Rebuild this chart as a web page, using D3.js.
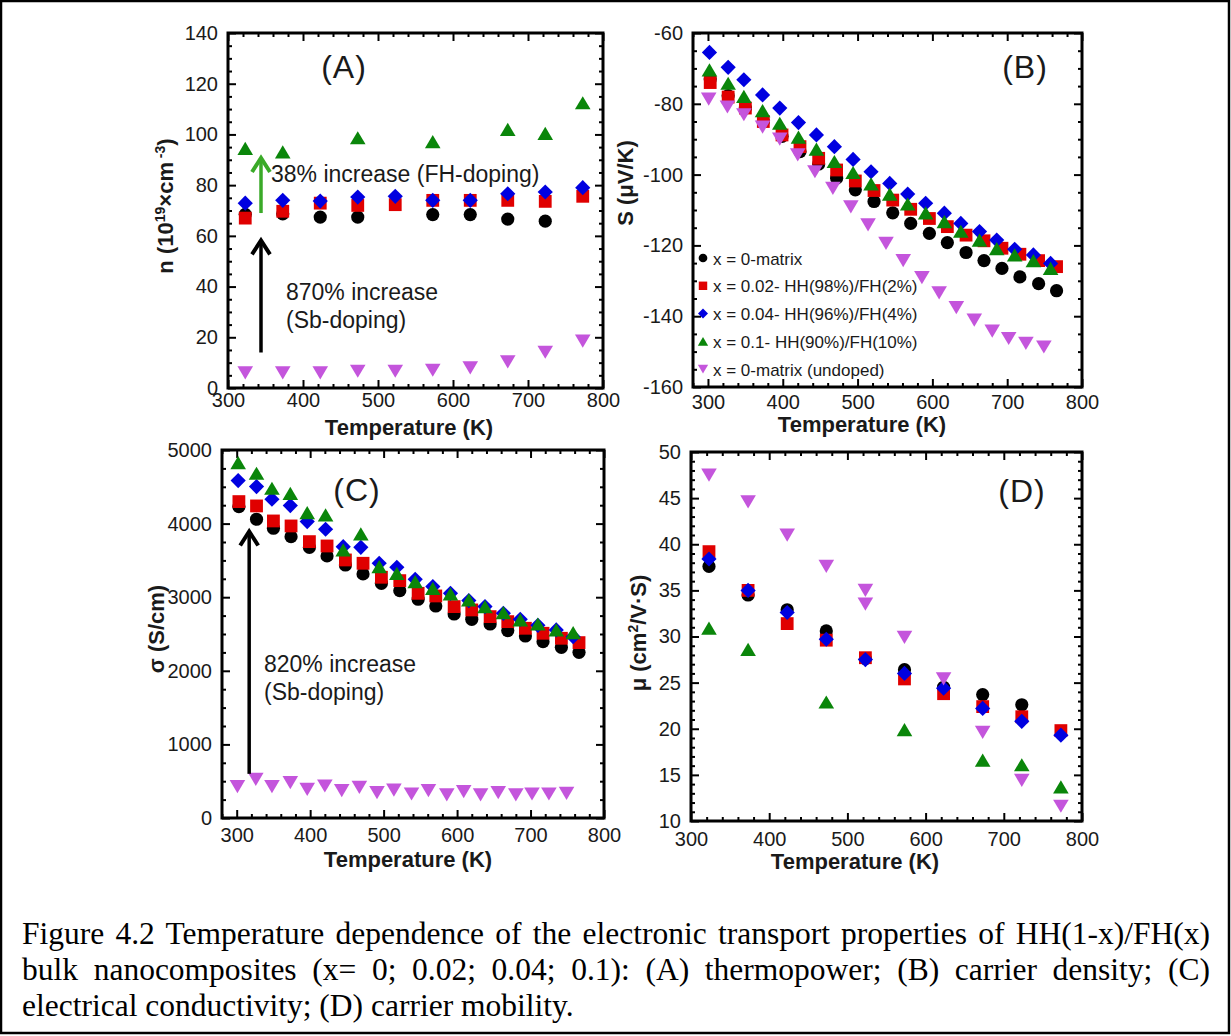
<!DOCTYPE html>
<html>
<head>
<meta charset="utf-8">
<script src="https://cdn.jsdelivr.net/npm/d3@7"></script>
<style>
  body { margin: 0; background: #fff; }
  svg text { font-family: "Liberation Sans", Arial, sans-serif; fill: #1a1a1a; }
  svg text.caption { font-family: "Liberation Serif", "Times New Roman", serif; fill: #000; }
</style>
</head>
<body>
<svg id="fig" width="1231" height="1036"></svg>
<script>
// ---- data ----
// (A) carrier density n (10^19 cm^-3)
const tA = [323, 373, 423, 473, 523, 573, 623, 673, 723, 773];
const nBlack   = [68.5, 68.7, 67.4, 67.4, null, 68.4, 68.4, 66.6, 65.8, null];
const nRed     = [67, 69.7, 72.9, 72, 72.3, 74, 74, 74, 73.6, 75.6];
const nBlue    = [72.9, 74, 73.7, 75.3, 75.6, 74, 74, 76.6, 77.3, 79];
const nGreen   = [94.5, 93.1, null, 98.7, null, 97.2, null, 102, 100.4, 112.5];
const nUndoped = [6, 6, 6, 6.6, 6.6, 7, 7.9, 10.3, 14.1, 18.5];

// (B) thermopower S (uV/K) and (C) conductivity sigma (S/cm)
const tB  = [303, 327, 350, 374, 399, 423, 448, 472, 497, 522, 547, 571, 596, 620, 645, 669, 693, 717, 742, 766];
const tBG = [302, 327, 348, 373, 396, 421, 445, 469, 494, 518, 543, 567, 591, 616, 638, 663, 686, 710, 735, 758];
const tU  = [301, 326, 348, 373, 396, 420, 443, 467, 491, 514, 538, 561, 586, 609, 632, 656, 680, 702, 725, 749];
const sBlack   = [-73, -77.7, -81.2, -85, -89.2, -93.5, -97, -101, -104.3, -107.6, -110.8, -113.8, -116.6, -119.2, -122, -124.3, -126.5, -128.9, -130.8, -132.8];
const sRed     = [-74, -78.1, -81.2, -85, -88.8, -92.1, -95.4, -98.7, -101.8, -104.5, -107.2, -109.8, -112.4, -114.7, -117.1, -118.7, -120.8, -122.5, -124.3, -126];
const sBlue    = [-65.5, -69.7, -73.2, -77.5, -81.2, -85.3, -88.8, -92.1, -95.7, -99.2, -102.5, -105.5, -108.1, -110.9, -113.8, -116.1, -118.5, -121.1, -122.7, -125.1];
const sGreen   = [-70.4, -74.2, -77.9, -81.9, -85.5, -89.4, -92.8, -96.3, -99.4, -102.6, -105.5, -108.3, -110.8, -113.3, -116, -118.5, -120.9, -122.7, -124.3, -126.5];
const sUndoped = [-78.7, -80.9, -83.1, -86.6, -90, -94.4, -99.2, -103.9, -109.1, -114.2, -119.4, -124.3, -129.1, -133.4, -137.6, -141.1, -144.2, -146.3, -147.7, -148.7];

const cBlack   = [4231, 4059, 3937, 3823, 3678, 3561, 3438, 3316, 3189, 3089, 2972, 2881, 2772, 2700, 2636, 2546, 2473, 2396, 2319, 2251];
const cRed     = [4299, 4240, 4036, 3968, 3755, 3696, 3506, 3461, 3271, 3225, 3053, 3017, 2872, 2827, 2736, 2668, 2578, 2510, 2442, 2383];
const cBlue    = [4584, 4503, 4331, 4245, 4027, 3923, 3687, 3678, 3461, 3407, 3243, 3144, 3053, 2954, 2872, 2781, 2700, 2618, 2555, 2464];
const cGreen   = [4829, 4684, 4480, 4412, 4149, 4118, 3642, 3860, 3416, 3325, 3212, 3121, 3044, 2963, 2872, 2790, 2691, 2636, 2555, 2519];
const cUndoped = [426, 525, 426, 480, 390, 435, 371, 417, 344, 380, 326, 371, 313, 358, 313, 344, 313, 326, 326, 335];

// (D) mobility mu (cm2/V.S)
const tDU = [323, 373, 423, 473, 523, 523, 573, 623, 673, 723, 773];
const mBlack   = [37.6, 34.5, 32.9, 30.6, 27.6, 26.4, 24.5, 23.7, 22.6, null];
const mRed     = [39.2, 35, 31.4, 29.6, 27.7, 25.4, 23.8, 22.4, 21.3, 19.8];
const mBlue    = [38.4, 35, 32.6, 29.7, 27.5, 26, 24.4, 22.2, 20.8, 19.3];
const mGreen   = [30.9, 28.6, null, 22.9, null, 19.9, null, 16.6, 16.1, 13.7];
const mUndoped = [47.5, 44.6, 41, 37.6, 35, 33.5, 29.9, 25.4, 19.6, 14.4, 11.6];

const legendLabels = [
  "x = 0-matrix",
  "x = 0.02- HH(98%)/FH(2%)",
  "x = 0.04- HH(96%)/FH(4%)",
  "x = 0.1- HH(90%)/FH(10%)",
  "x = 0-matrix (undoped)"
];
const seriesColors = ["#000000", "#e00000", "#0000e0", "#0a860a", "#c455dc"];
const seriesShapes = ["circle", "square", "diamond", "up", "down"];

const captionLines = [
  "Figure 4.2 Temperature dependence of the electronic transport properties of HH(1-x)/FH(x)",
  "bulk nanocomposites (x= 0; 0.02; 0.04; 0.1): (A) thermopower; (B) carrier density; (C)",
  "electrical conductivity; (D) carrier mobility."
];

// ---- drawing ----
const svg = d3.select("#fig");
svg.append("rect").attr("width", 1231).attr("height", 1036).attr("fill", "#fff");
svg.append("rect")
  .attr("x", 1).attr("y", 1).attr("width", 1228).attr("height", 1032)
  .attr("fill", "none").attr("stroke", "#000").attr("stroke-width", 2.5);

function shapePath(shape, k) {
  k = k || 1;
  if (shape === "circle") { const r = 6.6 * k; return `M${r},0A${r},${r} 0 1,1 ${-r},0A${r},${r} 0 1,1 ${r},0Z`; }
  if (shape === "square") { const h = 6.4 * k; return `M${-h},${-h}H${h}V${h}H${-h}Z`; }
  if (shape === "diamond") { const h = 7.6 * k; return `M0,${-h}L${h},0L0,${h}L${-h},0Z`; }
  if (shape === "up") { const w = 7.8 * k, h = 6.6 * k; return `M0,${-h}L${w},${h}L${-w},${h}Z`; }
  const w = 7.8 * k, h = 6.6 * k; return `M0,${h}L${w},${-h}L${-w},${-h}Z`;
}

function range(a, b, step) { return d3.range(a, b + step / 2, step); }
const fmt = d => String(d);

function panel(cfg) {
  const x = d3.scaleLinear().domain(cfg.xd).range(cfg.xr);
  const y = d3.scaleLinear().domain(cfg.yd).range(cfg.yr);
  const g = svg.append("g");
  const [x0, x1] = cfg.xr, [y1, y0] = cfg.yr;

  const style = a => {
    a.select(".domain").remove();
    a.selectAll("line").attr("stroke", "#000").attr("stroke-width", 2);
    a.selectAll("text").attr("font-size", 20).attr("fill", "#1a1a1a")
      .attr("font-family", "Liberation Sans, Arial, sans-serif");
  };
  const xMaj = range(cfg.xt[0], cfg.xt[1], cfg.xt[2]);
  const xMin = range(cfg.xm[0], cfg.xm[1], cfg.xm[2]).filter(v => !xMaj.includes(v));
  const yMaj = range(cfg.yd[0], cfg.yd[1], cfg.yt);
  const yMin = range(cfg.yd[0], cfg.yd[1], cfg.ym).filter(v => !yMaj.some(m => Math.abs(m - v) < 1e-9));

  g.append("g").attr("transform", `translate(0,${y1})`)
    .call(d3.axisBottom(x).tickValues(xMaj).tickSize(-8).tickPadding(cfg.xpad).tickFormat(fmt)).call(style);
  g.append("g").attr("transform", `translate(0,${y1})`)
    .call(d3.axisBottom(x).tickValues(xMin).tickSize(-4).tickFormat("")).call(style);
  g.append("g").attr("transform", `translate(0,${y0})`)
    .call(d3.axisTop(x).tickValues(xMaj).tickSize(-8).tickFormat("")).call(style);
  g.append("g").attr("transform", `translate(0,${y0})`)
    .call(d3.axisTop(x).tickValues(xMin).tickSize(-4).tickFormat("")).call(style);
  g.append("g").attr("transform", `translate(${x0},0)`)
    .call(d3.axisLeft(y).tickValues(yMaj).tickSize(-8).tickPadding(10).tickFormat(fmt)).call(style);
  g.append("g").attr("transform", `translate(${x0},0)`)
    .call(d3.axisLeft(y).tickValues(yMin).tickSize(-4).tickFormat("")).call(style);
  g.append("g").attr("transform", `translate(${x1},0)`)
    .call(d3.axisRight(y).tickValues(yMaj).tickSize(-8).tickFormat("")).call(style);
  g.append("g").attr("transform", `translate(${x1},0)`)
    .call(d3.axisRight(y).tickValues(yMin).tickSize(-4).tickFormat("")).call(style);
  // unlabeled tick groups keep no empty text nodes
  g.selectAll("text").filter(function () { return this.textContent === ""; }).remove();

  g.append("rect").attr("x", x0).attr("y", y0).attr("width", x1 - x0).attr("height", y1 - y0)
    .attr("fill", "none").attr("stroke", "#000").attr("stroke-width", 3);

  // series
  cfg.series.forEach((s, i) => {
    const pts = s.t.map((t, j) => [t, s.v[j]]).filter(p => p[1] != null);
    g.append("g").selectAll("path").data(pts).join("path")
      .attr("d", shapePath(seriesShapes[i]))
      .attr("transform", d => `translate(${x(d[0])},${y(d[1])})`)
      .attr("fill", seriesColors[i]);
  });

  // axis titles
  g.append("text").attr("x", cfg.xtitle[0]).attr("y", cfg.xtitle[1])
    .attr("text-anchor", "middle").attr("font-size", 22).attr("font-weight", "bold")
    .text("Temperature (K)");
  const yt = g.append("text")
    .attr("transform", `translate(${cfg.ytitle[0]},${cfg.ytitle[1]}) rotate(-90)`)
    .attr("text-anchor", "middle").attr("font-size", 22).attr("font-weight", "bold");
  let raised = false;
  cfg.ylabel.forEach(part => {
    if (typeof part === "string") {
      yt.append("tspan").attr("dy", raised ? 8 : null).text(part);
      raised = false;
    } else {
      yt.append("tspan").attr("dy", -8).attr("font-size", 14).text(part.up);
      raised = true;
    }
  });

  // panel letter
  g.append("text").attr("x", cfg.tag[0]).attr("y", cfg.tag[1]).attr("text-anchor", "middle")
    .attr("font-size", 32).attr("letter-spacing", 1).text(cfg.tagText);

  return { g, x, y };
}

function arrow(g, x, y, xv, yFrom, yTo, color) {
  const px = x(xv), pa = y(yFrom), pb = y(yTo);
  g.append("line").attr("x1", px).attr("x2", px).attr("y1", pa).attr("y2", pb + 2)
    .attr("stroke", color).attr("stroke-width", 3.5);
  g.append("path").attr("d", `M${px - 9},${pb + 16}L${px},${pb + 2}L${px + 9},${pb + 16}`)
    .attr("fill", "none").attr("stroke", color).attr("stroke-width", 4)
    .attr("stroke-linejoin", "miter");
}

function note(g, px, py, lines, size) {
  lines.forEach((l, i) => {
    g.append("text").attr("x", px).attr("y", py + i * 28).attr("font-size", size).text(l);
  });
}

// (A)
const A = panel({
  xd: [300, 800], xr: [228, 603], yd: [0, 140], yr: [388, 33],
  xt: [300, 800, 100], xm: [300, 800, 20], yt: 20, ym: 5, xpad: 5,
  series: [
    { t: tA, v: nBlack }, { t: tA, v: nRed }, { t: tA, v: nBlue },
    { t: tA, v: nGreen }, { t: tA, v: nUndoped }
  ],
  xtitle: [409, 435], ytitle: [173, 206],
  ylabel: ["n (10", { up: "19" }, "\u00d7cm", { up: " -3" }, ")"],
  tag: [344, 78], tagText: "(A)"
});
arrow(A.g, A.x, A.y, 344, 69, 91.5, "#3aaa28");
arrow(A.g, A.x, A.y, 344, 14, 59, "#000");
note(A.g, 271, 182, ["38% increase (FH-doping)"], 23);
note(A.g, 286, 300, ["870% increase", "(Sb-doping)"], 23);

// (B)
const B = panel({
  xd: [280, 800], xr: [693, 1082], yd: [-160, -60], yr: [387, 33],
  xt: [300, 800, 100], xm: [280, 800, 20], yt: 20, ym: 5, xpad: 8,
  series: [
    { t: tB, v: sBlack }, { t: tB, v: sRed }, { t: tBG, v: sBlue },
    { t: tBG, v: sGreen }, { t: tU, v: sUndoped }
  ],
  xtitle: [862, 432], ytitle: [633, 183],
  ylabel: ["S (\u03bcV/K)"],
  tag: [1025, 78], tagText: "(B)"
});
const leg = B.g.append("g");
legendLabels.forEach((lab, i) => {
  const cy = 258 + i * 27.8;
  leg.append("path").attr("d", shapePath(seriesShapes[i], 0.66))
    .attr("transform", `translate(703,${cy})`).attr("fill", seriesColors[i]);
  leg.append("text").attr("x", 713).attr("y", cy + 6.5).attr("font-size", 17)
    .attr("fill", "#333").text(lab);
});

// (C)
const C = panel({
  xd: [280, 800], xr: [222, 604], yd: [0, 5000], yr: [818, 450],
  xt: [300, 800, 100], xm: [280, 800, 20], yt: 1000, ym: 250, xpad: 10,
  series: [
    { t: tB, v: cBlack }, { t: tB, v: cRed }, { t: tBG, v: cBlue },
    { t: tBG, v: cGreen }, { t: tU, v: cUndoped }
  ],
  xtitle: [408, 867], ytitle: [164, 629],
  ylabel: ["\u03c3 (S/cm)"],
  tag: [357, 501], tagText: "(C)"
});
arrow(C.g, C.x, C.y, 317, 600, 3920, "#000");
note(C.g, 264, 672, ["820% increase", "(Sb-doping)"], 23);

// (D)
const D = panel({
  xd: [300, 800], xr: [691, 1082], yd: [10, 50], yr: [821, 452],
  xt: [300, 800, 100], xm: [300, 800, 20], yt: 5, ym: 1, xpad: 11,
  series: [
    { t: tA, v: mBlack }, { t: tA, v: mRed }, { t: tA, v: mBlue },
    { t: tA, v: mGreen }, { t: tDU, v: mUndoped }
  ],
  xtitle: [855, 869], ytitle: [646, 633],
  ylabel: ["\u03bc (cm", { up: "2" }, "/V\u00b7S)"],
  tag: [1022, 502], tagText: "(D)"
});

// caption, first two lines justified between the margins
const capX = 22, capW = 1188, capY = [944, 980, 1016];
captionLines.forEach((line, i) => {
  const t = svg.append("text").attr("class", "caption")
    .attr("x", capX).attr("y", capY[i]).attr("font-size", 31.5).text(line);
  if (i < 2) {
    const gaps = line.split(" ").length - 1;
    const extra = capW - t.node().getComputedTextLength();
    t.attr("word-spacing", extra / gaps);
  }
});
</script>
</body>
</html>
